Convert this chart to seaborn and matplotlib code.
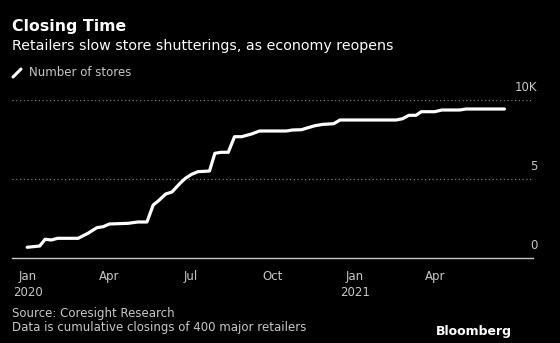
import matplotlib
matplotlib.use("Agg")
import matplotlib.pyplot as plt
import seaborn as sns
import pandas as pd

# Cumulative store closings (number of stores)
dates = [
    "2019-12-31", "2020-01-14", "2020-01-20", "2020-01-27", "2020-02-03",
    "2020-02-26", "2020-03-08", "2020-03-18", "2020-03-25", "2020-04-01",
    "2020-04-22", "2020-05-03", "2020-05-13", "2020-05-20", "2020-05-26",
    "2020-06-03", "2020-06-10", "2020-06-19", "2020-06-25", "2020-07-02",
    "2020-07-09", "2020-07-22", "2020-07-28", "2020-08-04", "2020-08-12",
    "2020-08-19", "2020-08-27", "2020-09-07", "2020-09-16", "2020-10-09",
    "2020-10-16", "2020-10-23", "2020-11-02", "2020-11-07", "2020-11-17",
    "2020-11-26", "2020-12-08", "2020-12-15", "2020-12-28", "2021-02-16",
    "2021-02-23", "2021-03-02", "2021-03-10", "2021-03-16", "2021-03-31",
    "2021-04-08", "2021-04-28", "2021-05-05", "2021-06-17",
]
stores = [
    660, 740, 1165, 1120, 1227,
    1227, 1544, 1900, 1962, 2133,
    2177, 2260, 2260, 3335, 3608,
    4032, 4158, 4709, 5025, 5278,
    5443, 5487, 6607, 6671, 6671,
    7658, 7658, 7829, 8019, 8019,
    8019, 8082, 8100, 8190, 8354,
    8440, 8480, 8715, 8715, 8715,
    8797, 9012, 9012, 9240, 9240,
    9348, 9348, 9411, 9411,
]

tick_dates = ["2020-01-01", "2020-04-01", "2020-07-01", "2020-10-01", "2021-01-01", "2021-04-01"]
tick_labels = ["Jan\n2020", "Apr", "Jul", "Oct", "Jan\n2021", "Apr"]
y_ticks = [0, 5000, 10000]
y_labels = ["0", "5", "10K"]

df = pd.DataFrame({"date": pd.to_datetime(dates), "stores": stores})

sns.set_style("dark")
plt.rcParams["font.family"] = ["DejaVu Sans"]

BG = "#000000"
GRID = "#7a7a7a"
TICK = "#c8c8c8"

fig = plt.figure(figsize=(5.6, 3.43), dpi=100, facecolor=BG)
W, H = 560, 343
ax = fig.add_axes([12 / W, 1 - 257.7 / H, (533 - 12) / W, (257.7 - 99.7) / H])
ax.set_facecolor(BG)

sns.lineplot(data=df, x="date", y="stores", ax=ax, color="white",
             linewidth=2.3, clip_on=False)

ax.set_xlim(pd.Timestamp("2019-12-14"), pd.Timestamp("2021-07-19"))
ax.set_ylim(0, 10000)

for s in ["top", "right", "left"]:
    ax.spines[s].set_visible(False)
ax.spines["bottom"].set_color(TICK)
ax.spines["bottom"].set_linewidth(1.0)

ax.set_xticks(pd.to_datetime(tick_dates))
ax.set_xticklabels(tick_labels, color=TICK, fontsize=8.5, linespacing=1.3)
ax.tick_params(axis="x", direction="out", length=4, width=1, color=TICK, pad=5)
ax.set_yticks([])
ax.grid(False)
ax.set_xlabel("")
ax.set_ylabel("")

for v, lab in zip(y_ticks, y_labels):
    if v > 0:
        ax.axhline(v, color=GRID, linestyle=(0, (1, 2)), linewidth=0.9, zorder=0)
    ax.text(1.008, v + 350, lab, transform=ax.get_yaxis_transform(),
            ha="right", va="bottom", color=TICK, fontsize=8.5)

fig.text(12 / W, 1 - 27 / H, "Closing Time", color="white", fontsize=11.3,
         fontweight="bold", va="center", ha="left")
fig.text(12 / W, 1 - 46 / H, "Retailers slow store shutterings, as economy reopens",
         color="white", fontsize=10.25, va="center", ha="left")

# legend swatch and label
fig.add_artist(plt.Line2D([13 / W, 21 / W], [1 - 77 / H, 1 - 69 / H],
                          color="white", linewidth=2.2, solid_capstyle="round"))
fig.text(29 / W, 1 - 72.5 / H, "Number of stores", color=TICK, fontsize=8.5,
         va="center", ha="left")

fig.text(12 / W, 1 - 313 / H, "Source: Coresight Research", color=TICK,
         fontsize=8.5, va="center", ha="left")
fig.text(12 / W, 1 - 327 / H, "Data is cumulative closings of 400 major retailers",
         color=TICK, fontsize=8.5, va="center", ha="left")
fig.text(512 / W, 1 - 332 / H, "Bloomberg", color="white", fontsize=9,
         fontweight="bold", va="center", ha="right")

fig.savefig("out.png", dpi=100, facecolor=BG)
